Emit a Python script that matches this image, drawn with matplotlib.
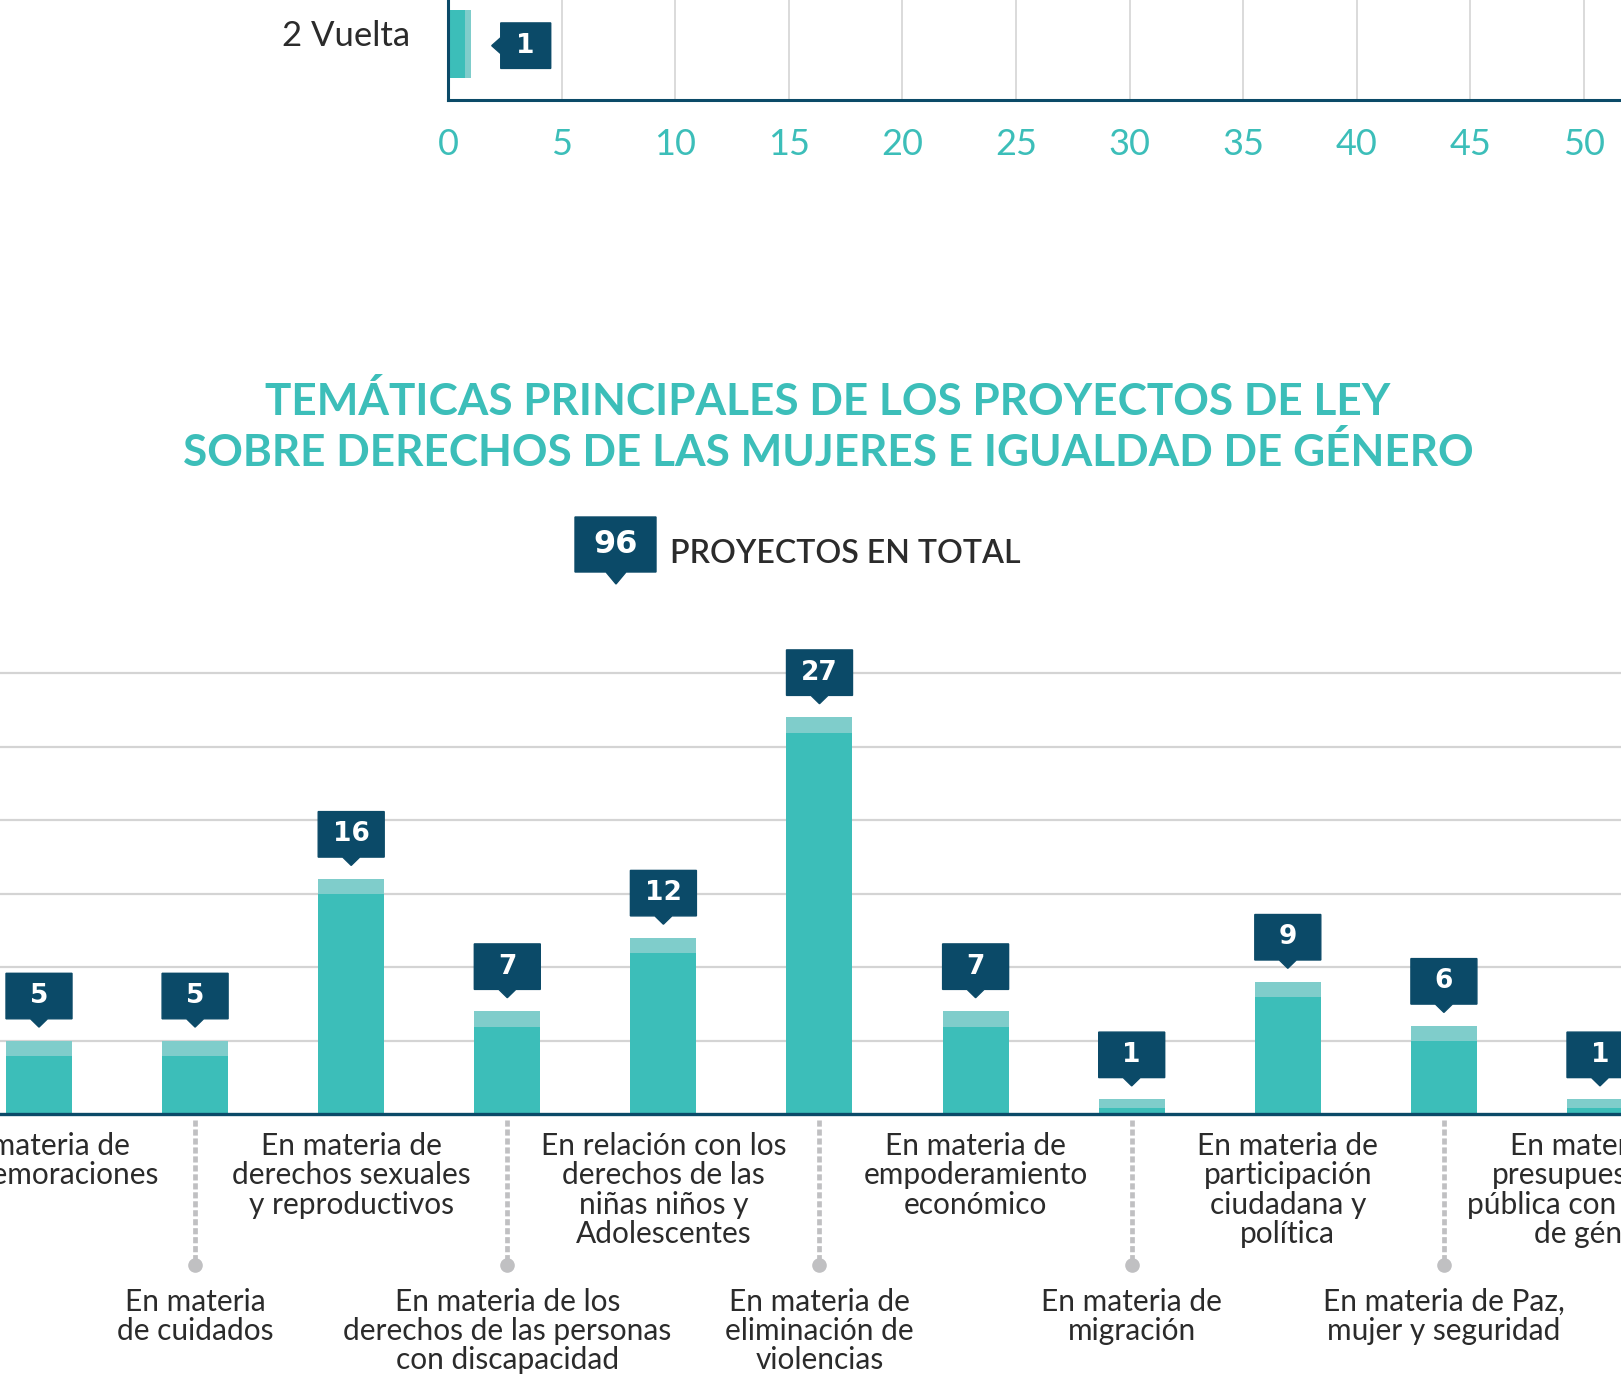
import matplotlib.pyplot as plt
from matplotlib.patches import Polygon

W, H, DPI = 1621, 1398, 100

# upper chart (only its last row is visible)
vueltas = ['2 Vuelta']
vuelta_values = [1]
vuelta_ticks = [0, 5, 10, 15, 20, 25, 30, 35, 40, 45, 50]

# main chart
temas = [
    'En materia de\nconmemoraciones',
    'En materia\nde cuidados',
    'En materia de\nderechos sexuales\ny reproductivos',
    'En materia de los\nderechos de las personas\ncon discapacidad',
    'En relación con los\nderechos de las\nniñas niños y\nAdolescentes',
    'En materia de\neliminación de\nviolencias',
    'En materia de\nempoderamiento\neconómico',
    'En materia de\nmigración',
    'En materia de\nparticipación\nciudadana y\npolítica',
    'En materia de Paz,\nmujer y seguridad',
    'En materia de\npresupuestación\npública con enfoque\nde género',
]
proyectos = [5, 5, 16, 7, 12, 27, 7, 1, 9, 6, 1]
grid_y = [5, 10, 15, 20, 25, 30]

TEAL = '#3cbeb9'
TEAL_LIGHT = '#7fcdcb'
NAVY = '#0b4a68'
TEXT = '#2b2b2b'
GRID = '#d4d4d4'
DOTS = '#c0c0c2'
NUM_FONT = ['DejaVu Sans']

plt.rcParams['font.family'] = ['Lato', 'DejaVu Sans']

fig = plt.figure(figsize=(W / DPI, H / DPI), dpi=DPI)


def rect(left, top, width, height):
    # pixel box (from top-left) -> figure fraction
    return [left / W, 1 - (top + height) / H, width / W, height / H]


# ---------------- upper chart ----------------
ax1 = fig.add_axes(rect(448, -50, 1250, 150))
x_ppu = 22.72
y_ppu = 150 / 2.21
ax1.set_xlim(0, 1250 / x_ppu)
ax1.set_ylim(-0.83, 1.38)

cap1 = 0.23
for i, v in enumerate(vuelta_values):
    ax1.barh(i, v, height=1.0, color=TEAL, zorder=2)
    ax1.barh(i, cap1, left=v - cap1, height=1.0, color=TEAL_LIGHT, zorder=2)
    tip = v + 21 / x_ppu
    bl = v + 30 / x_ppu
    bw = 50 / x_ppu
    bh = 45.5 / y_ppu / 2
    ph = 8 / y_ppu
    yc = i - 2 / y_ppu
    ax1.add_patch(Polygon([(tip, yc), (bl, yc - ph), (bl, yc - bh), (bl + bw, yc - bh),
                           (bl + bw, yc + bh), (bl, yc + bh), (bl, yc + ph)],
                          closed=True, color=NAVY, clip_on=False, zorder=3))
    ax1.text(bl + bw / 2, yc, str(v), color='white', fontsize=19, fontweight='bold',
             family=NUM_FONT, ha='center', va='center', zorder=4)
    ax1.text(-38 / x_ppu, i + 8 / y_ppu, vueltas[i], ha='right', va='center',
             fontsize=25, color=TEXT, clip_on=False)

ax1.set_yticks([])
ax1.set_xticks(vuelta_ticks)
ax1.tick_params(axis='x', length=0, pad=20, labelsize=26, labelcolor=TEAL)
ax1.xaxis.grid(True, color=GRID, lw=1.2, zorder=0)
ax1.set_axisbelow(True)
for s in ['top', 'right']:
    ax1.spines[s].set_visible(False)
for s in ['left', 'bottom']:
    ax1.spines[s].set_color(NAVY)
    ax1.spines[s].set_linewidth(2.2)

# ---------------- title ----------------
fig.text(828 / W, 1 - 401 / H, 'TEMÁTICAS PRINCIPALES DE LOS PROYECTOS DE LEY',
         ha='center', va='center', fontsize=31.8, fontweight='bold', color=TEAL)
fig.text(828 / W, 1 - 452 / H, 'SOBRE DERECHOS DE LAS MUJERES E IGUALDAD DE GÉNERO',
         ha='center', va='center', fontsize=31.8, fontweight='bold', color=TEAL)

# total badge
bx0, bx1, by0, by1 = 575, 656, 517, 572
tx, ty = 616, 584
badge = [(bx0, by0), (bx1, by0), (bx1, by1), (tx + 10, by1), (tx, ty), (tx - 10, by1), (bx0, by1)]
fig.patches.append(Polygon([(x / W, 1 - y / H) for x, y in badge], closed=True,
                           color=NAVY, transform=fig.transFigure, figure=fig))
fig.text((bx0 + bx1) / 2 / W, 1 - (by0 + by1) / 2 / H, str(sum(proyectos)),
         ha='center', va='center', fontsize=23, fontweight='bold', family=NUM_FONT,
         color='white')
fig.text(670 / W, 1 - 554 / H, 'PROYECTOS EN TOTAL', ha='left', va='center',
         fontsize=23, fontweight='semibold', color=TEXT)

# ---------------- main chart ----------------
x_step = 156.1
ppu = 14.7
ymax = 31
ax = fig.add_axes(rect(39 - 0.6 * x_step, 1114 - ymax * ppu, 11.2 * x_step, ymax * ppu))
ax.set_xlim(-0.6, 10.6)
ax.set_ylim(0, ymax)

x = list(range(len(proyectos)))
bw = 66 / x_step
caps = [min(15.5 / ppu, 0.6 * v) for v in proyectos]
ax.bar(x, proyectos, width=bw, color=TEAL, zorder=2)
ax.bar(x, caps, bottom=[v - c for v, c in zip(proyectos, caps)], width=bw,
       color=TEAL_LIGHT, zorder=2)

for i, v in enumerate(proyectos):
    tip = v + 13.4 / ppu
    b0 = v + 21.7 / ppu
    b1 = b0 + 45.5 / ppu
    pw = 8.5 / x_step
    ax.add_patch(Polygon([(i - bw / 2, b0), (i - pw, b0), (i, tip), (i + pw, b0),
                          (i + bw / 2, b0), (i + bw / 2, b1), (i - bw / 2, b1)],
                         closed=True, color=NAVY, clip_on=False, zorder=3))
    ax.text(i, (b0 + b1) / 2, str(v), color='white', fontsize=19, fontweight='bold',
            family=NUM_FONT, ha='center', va='center', zorder=4)

    if i % 2 == 0:
        ax.annotate(temas[i], xy=(i, 0), xytext=(0, -13), textcoords='offset points',
                    ha='center', va='top', fontsize=21.5, color=TEXT, linespacing=1.06,
                    annotation_clip=False)
    else:
        ax.plot([i, i], [-6 / ppu, -151 / ppu], color=DOTS, lw=3.4,
                ls=(0, (1.3, 0.6)), clip_on=False, zorder=1)
        ax.plot([i], [-151 / ppu], 'o', ms=9.5, color=DOTS, clip_on=False, zorder=1)
        ax.annotate(temas[i], xy=(i, 0), xytext=(0, -125), textcoords='offset points',
                    ha='center', va='top', fontsize=21.5, color=TEXT, linespacing=1.06,
                    annotation_clip=False)

ax.set_yticks(grid_y)
ax.set_yticklabels([])
ax.set_xticks([])
ax.tick_params(axis='y', length=0)
ax.yaxis.grid(True, color=GRID, lw=1.6, zorder=0)
ax.set_axisbelow(True)
for s in ['top', 'right', 'left']:
    ax.spines[s].set_visible(False)
ax.spines['bottom'].set_color(NAVY)
ax.spines['bottom'].set_linewidth(2.4)
ax.spines['bottom'].set_zorder(5)

fig.savefig('out.png', dpi=DPI)
